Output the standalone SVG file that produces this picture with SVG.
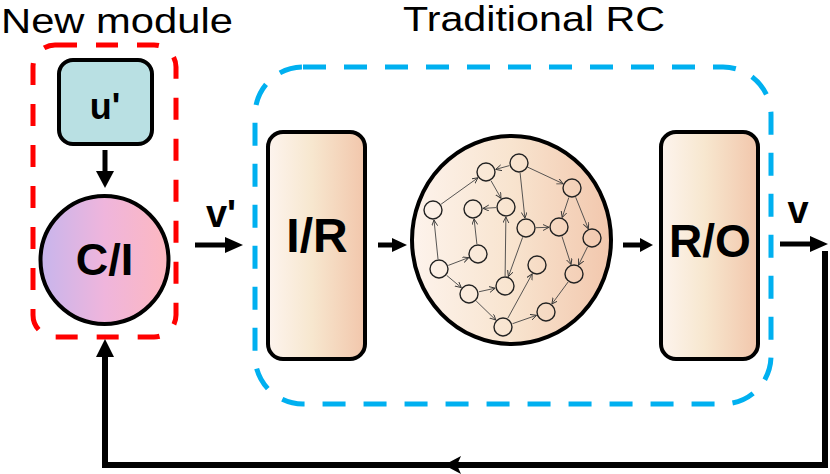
<svg xmlns="http://www.w3.org/2000/svg" width="830" height="474" viewBox="0 0 830 474">
<style>
.title{font-family:"Liberation Sans",Arial,sans-serif;font-size:35px;fill:#000}
.lbl{font-family:"Liberation Sans",Arial,sans-serif;font-weight:bold;fill:#000;text-anchor:middle}
.box{stroke:#000;stroke-width:4}
.rn{fill:none;stroke:#222;stroke-width:1.4}
.re{stroke:#444;stroke-width:0.9;fill:none;marker-end:url(#oa)}
.thick{stroke:#000;stroke-width:5;fill:none}
.head{fill:#000}
</style>
<defs>
<linearGradient id="gPeach" x1="0" y1="0" x2="1" y2="0">
<stop offset="0" stop-color="#fdf4ee"/>
<stop offset="0.45" stop-color="#f7e7cf"/>
<stop offset="1" stop-color="#f2c6ab"/>
</linearGradient>
<linearGradient id="gRes" x1="0" y1="0" x2="1" y2="0">
<stop offset="0" stop-color="#fdf3ec"/>
<stop offset="0.5" stop-color="#f8e4cf"/>
<stop offset="1" stop-color="#f2c7ad"/>
</linearGradient>
<linearGradient id="gCI" x1="0" y1="0" x2="1" y2="0">
<stop offset="0" stop-color="#c7b5ec"/>
<stop offset="0.5" stop-color="#efb5dc"/>
<stop offset="1" stop-color="#fdb8c0"/>
</linearGradient>
<marker id="oa" markerUnits="userSpaceOnUse" markerWidth="8" markerHeight="8" refX="6" refY="3" orient="auto">
<path d="M0,0 L6,3 L0,6" fill="none" stroke="#333" stroke-width="0.9"/>
</marker>
</defs>

<text class="title" x="1" y="33" textLength="232" lengthAdjust="spacingAndGlyphs">New module</text>
<text class="title" x="403" y="31" textLength="262" lengthAdjust="spacingAndGlyphs">Traditional RC</text>

<g id="new-module">
<rect x="33" y="45" width="143" height="292" rx="22" fill="none" stroke="#ff0000" stroke-width="5" stroke-dasharray="22 19"/>
</g>
<g id="traditional-rc">
<rect x="255" y="67" width="516" height="337" rx="48" fill="none" stroke="#00b0f0" stroke-width="5" stroke-dasharray="23 18"/>
</g>

<g id="u-prime">
<rect class="box" x="59" y="60" width="93" height="84" rx="14" fill="#b9e0e3"/>
<text class="lbl" x="105" y="119" font-size="36">u'</text>
</g>

<g id="ci">
<circle class="box" cx="104.5" cy="260" r="64" fill="url(#gCI)"/>
<text class="lbl" x="104.5" y="275" font-size="45">C/I</text>
</g>

<g id="ir">
<rect class="box" x="268" y="132" width="97" height="227" rx="15" fill="url(#gPeach)"/>
<text class="lbl" x="317" y="252" font-size="48">I/R</text>
</g>

<g id="ro">
<rect class="box" x="661" y="132" width="97" height="227" rx="15" fill="url(#gPeach)"/>
<text class="lbl" x="710" y="257" font-size="46">R/O</text>
</g>

<g id="reservoir">
<ellipse class="box" cx="511.5" cy="240" rx="99.5" ry="104" fill="url(#gRes)"/>
<g id="reservoir-edges">
<line class="re" x1="509.4" y1="165.6" x2="495.7" y2="169.4"/>
<line class="re" x1="441.1" y1="204.2" x2="477.9" y2="177.8"/>
<line class="re" x1="491" y1="180.7" x2="501" y2="198.3"/>
<line class="re" x1="496" y1="207.6" x2="483" y2="208.4"/>
<line class="re" x1="520.1" y1="172.9" x2="524.9" y2="218.1"/>
<line class="re" x1="528" y1="167.3" x2="563" y2="183.7"/>
<line class="re" x1="536" y1="227.7" x2="549" y2="227.3"/>
<line class="re" x1="568.8" y1="197.5" x2="562.2" y2="217.5"/>
<line class="re" x1="575.7" y1="197.3" x2="588.3" y2="228.7"/>
<line class="re" x1="562" y1="236.5" x2="571" y2="264.5"/>
<line class="re" x1="587.5" y1="246.9" x2="578.5" y2="265.1"/>
<line class="re" x1="568.1" y1="282" x2="551.9" y2="304"/>
<line class="re" x1="438" y1="259" x2="434" y2="220"/>
<line class="re" x1="448.3" y1="265.4" x2="468.7" y2="257.6"/>
<line class="re" x1="476.9" y1="244.1" x2="474.1" y2="218.9"/>
<line class="re" x1="446.7" y1="275.4" x2="461.3" y2="287.6"/>
<line class="re" x1="478.8" y1="291.8" x2="495.2" y2="288.2"/>
<line class="re" x1="505.1" y1="276" x2="505.9" y2="217"/>
<line class="re" x1="522.6" y1="237.4" x2="508.4" y2="276.6"/>
<line class="re" x1="476.2" y1="301" x2="495.8" y2="320"/>
<line class="re" x1="507.8" y1="318.2" x2="532.2" y2="273.8"/>
<line class="re" x1="512.5" y1="323.7" x2="536.5" y2="315.3"/>
</g>
<g id="reservoir-nodes">
<circle class="rn" cx="486" cy="172" r="9"/>
<circle class="rn" cx="519" cy="163" r="9"/>
<circle class="rn" cx="572" cy="188" r="9"/>
<circle class="rn" cx="433" cy="210" r="9"/>
<circle class="rn" cx="473" cy="209" r="9"/>
<circle class="rn" cx="506" cy="207" r="9"/>
<circle class="rn" cx="526" cy="228" r="9"/>
<circle class="rn" cx="559" cy="227" r="9"/>
<circle class="rn" cx="592" cy="238" r="9"/>
<circle class="rn" cx="478" cy="254" r="9"/>
<circle class="rn" cx="439" cy="269" r="9"/>
<circle class="rn" cx="537" cy="265" r="9"/>
<circle class="rn" cx="574" cy="274" r="9"/>
<circle class="rn" cx="469" cy="294" r="9"/>
<circle class="rn" cx="505" cy="286" r="9"/>
<circle class="rn" cx="546" cy="312" r="9"/>
<circle class="rn" cx="503" cy="327" r="9"/>
</g>
</g>

<g id="connectors">
<line class="thick" x1="105" y1="150" x2="105" y2="173"/>
<polygon class="head" points="96,171 114,171 105,188"/>
<line class="thick" x1="195" y1="245" x2="227" y2="245"/>
<polygon class="head" points="225,237 225,253 243,245"/>
<text class="lbl" x="221" y="227" font-size="38">v'</text>
<line class="thick" x1="378" y1="245" x2="394" y2="245"/>
<polygon class="head" points="392,238 392,252 407,245"/>
<line class="thick" x1="623" y1="245" x2="641" y2="245"/>
<polygon class="head" points="640,238 640,252 653,245"/>
<line class="thick" x1="780" y1="244" x2="812" y2="244"/>
<polygon class="head" points="810,236 810,252 828,244"/>
<text class="lbl" x="798" y="223" font-size="38">v</text>
<path d="M825,251 V465 H105 V356" stroke="#000" stroke-width="6" fill="none"/>
<polygon class="head" points="96,357 114,357 105,339"/>
<polygon class="head" points="444,465 461,456 457,465 461,474"/>
</g>
</svg>
